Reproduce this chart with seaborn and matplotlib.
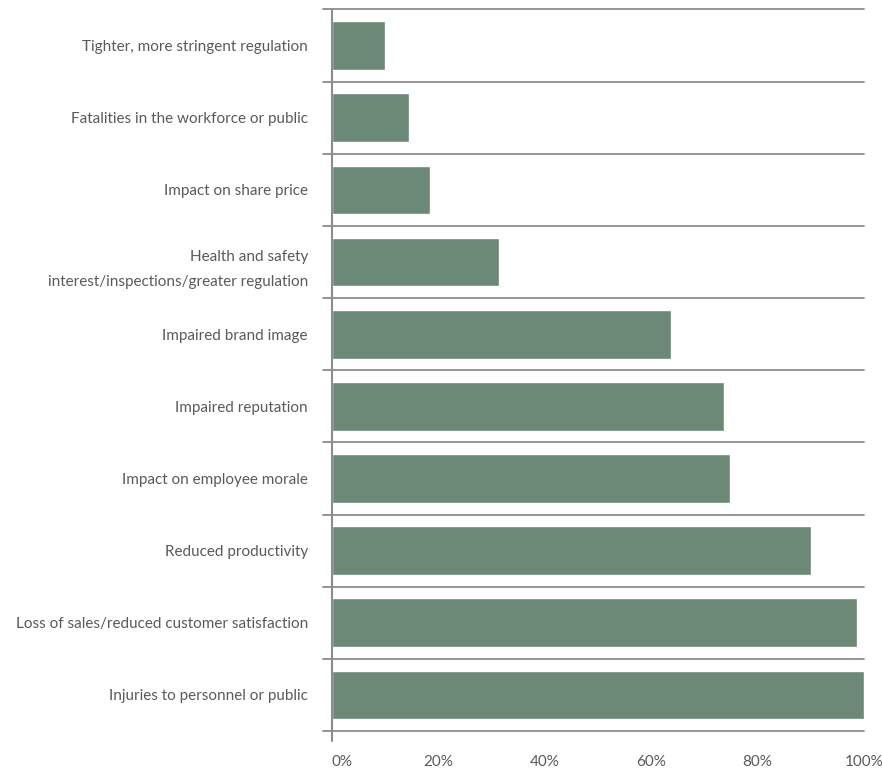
import matplotlib
matplotlib.use("Agg")
import matplotlib.pyplot as plt
import seaborn as sns
import pandas as pd

categories = [
    "Tighter, more stringent regulation",
    "Fatalities in the workforce or public",
    "Impact on share price",
    "Health and safety\ninterest/inspections/greater regulation",
    "Impaired brand image",
    "Impaired reputation",
    "Impact on employee morale",
    "Reduced productivity",
    "Loss of sales/reduced customer satisfaction",
    "Injuries to personnel or public",
]
values = [10.1, 14.6, 18.5, 31.5, 63.7, 73.8, 74.8, 90.1, 98.6, 100.0]
x_ticks = [0, 20, 40, 60, 80, 100]
x_tick_labels = ["0%", "20%", "40%", "60%", "80%", "100%"]

sns.set_theme(style="white")
plt.rcParams["font.family"] = ["Lato", "DejaVu Sans"]

df = pd.DataFrame({"category": categories, "value": values})

fig = plt.figure(figsize=(8.82, 7.72), dpi=100)
ax = fig.add_axes([331.5 / 882, 1 - 731 / 772, (864 - 331.5) / 882, (731 - 9.5) / 772])

bar_color = "#6c8876"
sns.barplot(data=df, x="value", y="category", orient="h", color=bar_color,
            saturation=1, width=0.675, ax=ax)

ax.set_xlim(0, 100)
ax.set_ylim(len(categories) - 0.5, -0.5)

line_color = "#8c8c8c"
for k in range(len(categories) + 1):
    ax.axhline(k - 0.5, xmin=-9 / 532.5, xmax=1, color=line_color, lw=1.3,
               clip_on=False, zorder=3)
ax.axvline(0, ymin=-10 / 721.5, ymax=1, color=line_color, lw=1.5,
           clip_on=False, zorder=4)

for s in ax.spines.values():
    s.set_visible(False)

text_color = "#5a5a5a"
ax.set_xticks(x_ticks)
ax.set_xticklabels(x_tick_labels, fontsize=11, color=text_color)
ax.xaxis.get_majorticklabels()[0].set_horizontalalignment("left")
ax.tick_params(axis="x", length=0, pad=17)
ax.tick_params(axis="y", length=0, pad=17)
for lab in ax.get_yticklabels():
    lab.set_fontsize(11)
    lab.set_color(text_color)
    lab.set_linespacing(2.0)

ax.set_xlabel("")
ax.set_ylabel("")
ax.grid(False)

fig.savefig("out.png", dpi=100)
